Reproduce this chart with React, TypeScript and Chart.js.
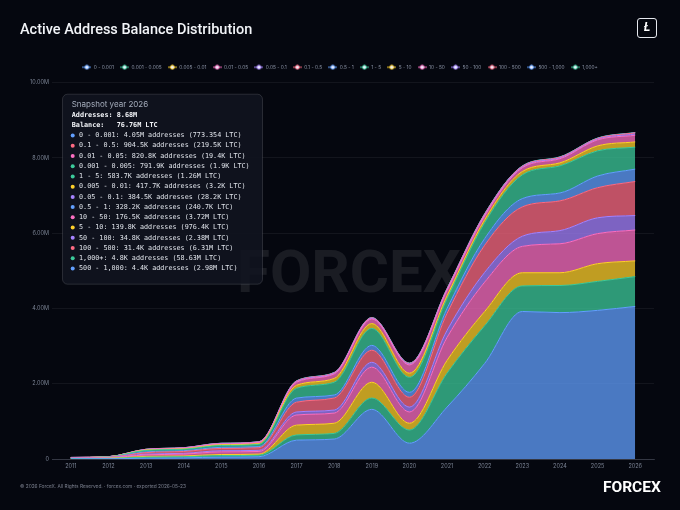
import React, { useEffect, useRef } from "react";
import { Chart, registerables } from "chart.js";

Chart.register(...registerables);

// Snapshot years (x axis categories)
const years = [
  "2011", "2012", "2013", "2014", "2015", "2016", "2017", "2018",
  "2019", "2020", "2021", "2022", "2023", "2024", "2025", "2026",
];

// Balance buckets (LTC), bottom of the stack first
const bucketLabels = [
  "0 - 0.001", "0.001 - 0.005", "0.005 - 0.01", "0.01 - 0.05", "0.05 - 0.1",
  "0.1 - 0.5", "0.5 - 1", "1 - 5", "5 - 10", "10 - 50", "50 - 100",
  "100 - 500", "500 - 1,000", "1,000+",
];

// Active addresses per bucket, in millions, one value per year
const b0_0001 = [0.003, 0.005, 0.02, 0.03, 0.05, 0.06, 0.5, 0.53, 1.32, 0.42, 1.38, 2.54, 3.92, 3.89, 3.95, 4.0549];
const b0001_0005 = [0.008, 0.01, 0.03, 0.03, 0.04, 0.04, 0.14, 0.15, 0.3, 0.35, 0.9, 1.0, 0.68, 0.72, 0.77, 0.7919];
const b0005_001 = [0.003, 0.005, 0.02, 0.02, 0.03, 0.03, 0.26, 0.27, 0.42, 0.18, 0.34, 0.38, 0.35, 0.34, 0.47, 0.4177];
const b001_005 = [0.006, 0.01, 0.04, 0.05, 0.07, 0.07, 0.27, 0.27, 0.4, 0.3, 0.61, 0.78, 0.7, 0.77, 0.8, 0.8208];
const b005_01 = [0.003, 0.005, 0.02, 0.02, 0.03, 0.03, 0.08, 0.08, 0.13, 0.13, 0.19, 0.26, 0.27, 0.35, 0.42, 0.3845];
const b01_05 = [0.006, 0.01, 0.04, 0.05, 0.06, 0.07, 0.26, 0.32, 0.32, 0.26, 0.45, 0.72, 0.78, 0.79, 0.8, 0.9045];
const b05_1 = [0.003, 0.005, 0.02, 0.02, 0.03, 0.03, 0.11, 0.08, 0.13, 0.13, 0.13, 0.18, 0.22, 0.21, 0.31, 0.3282];
const b1_5 = [0.004, 0.005, 0.04, 0.04, 0.05, 0.06, 0.26, 0.34, 0.45, 0.4, 0.26, 0.42, 0.63, 0.72, 0.67, 0.5837];
const b5_10 = [0.002, 0.002, 0.01, 0.01, 0.02, 0.02, 0.08, 0.1, 0.13, 0.11, 0.08, 0.08, 0.09, 0.08, 0.13, 0.1398];
const b10_50 = [0.002, 0.002, 0.01, 0.02, 0.02, 0.03, 0.08, 0.12, 0.12, 0.22, 0.14, 0.1, 0.1, 0.11, 0.16, 0.1765];
const b50_100 = [0.0005, 0.001, 0.004, 0.004, 0.008, 0.008, 0.016, 0.016, 0.016, 0.02, 0.02, 0.024, 0.02, 0.02, 0.02, 0.0348];
const b100_500 = [0.0005, 0.001, 0.004, 0.004, 0.008, 0.008, 0.016, 0.016, 0.016, 0.02, 0.02, 0.024, 0.02, 0.02, 0.02, 0.0314];
const b500_1000 = [0.0002, 0.0003, 0.001, 0.001, 0.002, 0.002, 0.004, 0.004, 0.004, 0.005, 0.005, 0.006, 0.005, 0.005, 0.005, 0.0044];
const b1000plus = [0.0002, 0.0003, 0.001, 0.001, 0.002, 0.002, 0.004, 0.004, 0.004, 0.005, 0.005, 0.006, 0.005, 0.005, 0.005, 0.0048];

const series = [
  b0_0001, b0001_0005, b0005_001, b001_005, b005_01, b01_05, b05_1,
  b1_5, b5_10, b10_50, b50_100, b100_500, b500_1000, b1000plus,
];

// LTC held per bucket at the latest snapshot (same order as bucketLabels)
const balance2026 = [
  773.354, 1900, 3200, 19400, 28200, 219500, 240700,
  1260000, 976400, 3720000, 2380000, 6305100, 2980000, 58625100,
];

const snapshotLabel = "Snapshot year";
const footerText = "© 2026 ForceX. All Rights Reserved. · forcex.com · exported 2026-05-23";

const palette = ["#62a0ff", "#3ccb9b", "#ffd02a", "#fc6fc2", "#a683ff", "#fd6b83"];

function rgba(hex: string, a: number) {
  const n = parseInt(hex.slice(1), 16);
  return `rgba(${(n >> 16) & 255},${(n >> 8) & 255},${n & 255},${a})`;
}

function fmtCount(millions: number) {
  if (millions >= 1) return `${millions.toFixed(2)}M`;
  return `${(millions * 1000).toFixed(1)}K`;
}

function fmtBalance(ltc: number) {
  if (ltc >= 1e6) return `${(ltc / 1e6).toFixed(2)}M`;
  if (ltc >= 1e3) return `${(ltc / 1e3).toFixed(1)}K`;
  return ltc.toFixed(3);
}

function makeLegendIcon(color: string): HTMLCanvasElement {
  const c = document.createElement("canvas");
  c.width = 9;
  c.height = 6;
  const g = c.getContext("2d")!;
  g.strokeStyle = color;
  g.lineWidth = 1;
  g.beginPath();
  g.moveTo(0, 3);
  g.lineTo(9, 3);
  g.stroke();
  g.beginPath();
  g.arc(4.5, 3, 2, 0, Math.PI * 2);
  g.fillStyle = "#eef2ff";
  g.fill();
  g.strokeStyle = color;
  g.stroke();
  return c;
}

const snapshotPanel = {
  id: "snapshotPanel",
  afterDraw(chart: any) {
    const { ctx, chartArea } = chart;
    const last = years.length - 1;
    const x0 = chartArea.left + 10.5;
    const y0 = chartArea.top + 11.5;
    const w = 200;
    const h = 190;
    const r = 5;
    ctx.save();
    ctx.beginPath();
    ctx.moveTo(x0 + r, y0);
    ctx.arcTo(x0 + w, y0, x0 + w, y0 + h, r);
    ctx.arcTo(x0 + w, y0 + h, x0, y0 + h, r);
    ctx.arcTo(x0, y0 + h, x0, y0, r);
    ctx.arcTo(x0, y0, x0 + w, y0, r);
    ctx.closePath();
    ctx.fillStyle = "rgba(17,21,32,0.88)";
    ctx.fill();
    ctx.strokeStyle = "rgba(255,255,255,0.13)";
    ctx.lineWidth = 1;
    ctx.stroke();

    ctx.textBaseline = "middle";
    ctx.textAlign = "left";
    ctx.font = "8px Inter";
    ctx.fillStyle = "#a4acbb";
    ctx.fillText(`${snapshotLabel} ${years[last]}`, x0 + 9.2, y0 + 10);

    const totalAddr = series.reduce((s, arr) => s + arr[last], 0);
    const totalBal = balance2026.reduce((s, v) => s + v, 0);
    ctx.font = 'bold 6.8px "DejaVu Sans Mono"';
    ctx.fillStyle = "#f4f6fa";
    ctx.fillText("Addresses:".padEnd(11) + fmtCount(totalAddr), x0 + 9.2, y0 + 21);
    ctx.fillText("Balance:".padEnd(11) + fmtBalance(totalBal) + " LTC", x0 + 9.2, y0 + 31);

    const order = series.map((_, i) => i).sort((a, b) => series[b][last] - series[a][last]);
    ctx.font = '6.75px "DejaVu Sans Mono"';
    order.forEach((i, k) => {
      const y = y0 + 41.3 + k * 10.23;
      ctx.beginPath();
      ctx.arc(x0 + 10.2, y, 2, 0, Math.PI * 2);
      ctx.fillStyle = palette[i % palette.length];
      ctx.fill();
      ctx.fillStyle = "#dfe3ea";
      ctx.fillText(
        `${bucketLabels[i]}: ${fmtCount(series[i][last])} addresses (${fmtBalance(balance2026[i])} LTC)`,
        x0 + 16.5,
        y
      );
    });
    ctx.restore();
  },
};

export default function App() {
  const ref = useRef<HTMLCanvasElement>(null);

  useEffect(() => {
    const canvas = ref.current;
    if (!canvas) return;
    const datasets = series.map((data, i) => {
      const c = palette[i % palette.length];
      return {
        label: bucketLabels[i],
        data,
        backgroundColor: rgba(c, 0.75),
        borderColor: c,
        borderWidth: 1,
        fill: i === 0 ? "origin" : "-1",
        pointRadius: 0,
        pointHoverRadius: 0,
        pointHitRadius: 0,
        pointStyle: makeLegendIcon(c),
        cubicInterpolationMode: "monotone",
      };
    });
    const tickFont = { family: "Inter", size: 5.5 };
    const chart = new Chart(canvas, {
      type: "line",
      data: { labels: years, datasets: datasets as any },
      options: {
        responsive: false,
        animation: false,
        events: [],
        layout: { padding: { top: 58.6, left: 26, right: 26, bottom: 35 } },
        plugins: {
          legend: {
            display: true,
            position: "top",
            labels: {
              usePointStyle: true,
              pointStyleWidth: 9,
              padding: 6.2,
              color: "#8b93a5",
              font: { family: "Inter", size: 4.8 },
            },
          },
          subtitle: {
            display: true,
            text: " ",
            weight: 500,
            padding: 0,
            font: { size: 3.1, lineHeight: 1 },
          } as any,
          tooltip: { enabled: false },
        },
        scales: {
          x: {
            type: "category",
            offset: true,
            grid: { display: false, drawTicks: false },
            border: { display: true, color: "rgba(150,160,185,0.25)" },
            ticks: {
              color: "#7b8394",
              font: tickFont,
              padding: 4,
              maxRotation: 0,
              autoSkip: false,
            },
            afterFit: (s: any) => {
              s.height = 16;
            },
          },
          y: {
            stacked: true,
            min: 0,
            max: 10,
            ticks: {
              stepSize: 2,
              padding: 3,
              color: "#7b8394",
              font: tickFont,
              callback: (v: any) => (Number(v) === 0 ? "0" : `${Number(v).toFixed(2)}M`),
            },
            grid: { color: "rgba(255,255,255,0.06)", drawTicks: false },
            border: { display: false },
            afterFit: (s: any) => {
              s.width = 26;
            },
          },
        },
      },
      plugins: [snapshotPanel],
    });
    return () => chart.destroy();
  }, []);

  return (
    <div
      style={{
        position: "fixed",
        left: 0,
        top: 0,
        width: 680,
        height: 510,
        background: "#05070f",
        overflow: "hidden",
        fontFamily: "Roboto, sans-serif",
      }}
    >
      <div
        style={{
          position: "absolute",
          left: 237,
          top: 242,
          fontFamily: "Roboto",
          fontWeight: 700,
          fontSize: 60,
          lineHeight: "60px",
          color: "rgba(255,255,255,0.085)",
          whiteSpace: "nowrap",
        }}
      >
        FORCEX
      </div>
      <canvas
        ref={ref}
        width={680}
        height={510}
        style={{ position: "absolute", left: 0, top: 0, width: 680, height: 510 }}
      />
      <div
        style={{
          position: "absolute",
          left: 20,
          top: 22.5,
          fontFamily: "Roboto",
          fontWeight: 500,
          fontSize: 14.5,
          lineHeight: "14.5px",
          color: "#f2f4f8",
          whiteSpace: "nowrap",
        }}
      >
        Active Address Balance Distribution
      </div>
      <div
        style={{
          position: "absolute",
          left: 637,
          top: 18,
          width: 20,
          height: 20,
          boxSizing: "border-box",
          border: "1.5px solid #e6e8ee",
          borderRadius: 3,
          color: "#ffffff",
          fontFamily: "Roboto",
          fontWeight: 700,
          fontStyle: "italic",
          fontSize: 12,
          lineHeight: "17px",
          textAlign: "center",
        }}
      >
        Ł
      </div>
      <div
        style={{
          position: "absolute",
          left: 20,
          top: 484,
          fontFamily: "Inter",
          fontSize: 9.6,
          lineHeight: "9.6px",
          color: "#7d8290",
          whiteSpace: "nowrap",
          transform: "scale(0.5)",
          transformOrigin: "0 0",
        }}
      >
        {footerText}
      </div>
      <div
        style={{
          position: "absolute",
          left: 603,
          top: 478.5,
          fontFamily: "Roboto",
          fontWeight: 700,
          fontSize: 15.5,
          lineHeight: "16px",
          color: "#ffffff",
          whiteSpace: "nowrap",
        }}
      >
        FORCEX
      </div>
    </div>
  );
}
